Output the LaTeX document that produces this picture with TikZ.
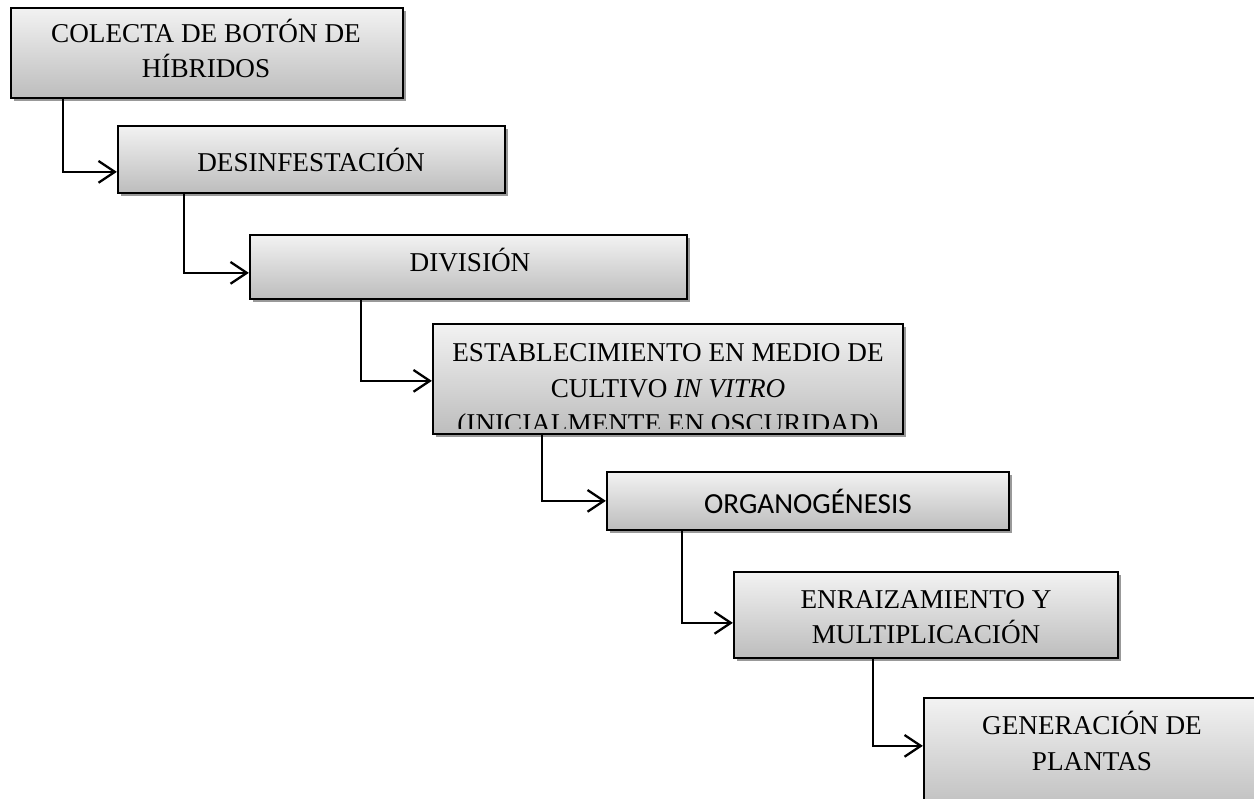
\documentclass[tikz,border=0pt]{standalone}
\usepackage{fontspec}
\setmainfont{Liberation Serif}
\newfontfamily\calibrifont{Carlito}
\usetikzlibrary{positioning, arrows.meta, calc, fit, shadows}

\begin{document}
\begin{tikzpicture}[
    x=0.46pt, y=-0.46pt,
    >={Straight Barb[length=7.5pt, width=10pt]},
    stepbox/.style={draw, line width=1.05pt, rectangle, inner sep=0pt, top color=black!5, bottom color=black!26,
        drop shadow={shadow xshift=1.2pt, shadow yshift=-1.2pt, fill=black!40, opacity=1}},
    txt/.style={align=center, inner sep=0pt, font=\fontsize{12.5}{16.4}\selectfont},
    flow/.style={->, line width=1.05pt, black}
]
\useasboundingbox (0,0) rectangle (1254,799);
\clip (0,0) rectangle (1254,799);

% 1. Etapas (cajas en escalera)
\node[stepbox, fit={(11,8) (403,98)}] (b1) {};
\node[stepbox, fit={(118,126) (505,193)}] (b2) {};
\node[stepbox, fit={(250,235) (687,299)}] (b3) {};
\node[stepbox, fit={(433,324) (903,434)}] (b4) {};
\node[stepbox, fit={(607,472) (1009,530)}] (b5) {};
\node[stepbox, fit={(734,572) (1118,658)}] (b6) {};
\node[stepbox, fit={(924,698) (1270,815)}] (b7) {};

% 2. Textos
\node[txt] (t1) at (206,48.5) {COLECTA DE BOTÓN DE\\HÍBRIDOS};
\node[txt] (t2) at (311,159.5) {DESINFESTACIÓN};
\node[txt] (t3) at (470,260) {DIVISIÓN};
\begin{scope}
    % la tercera línea queda cortada por la caja
    \clip (433,324) rectangle (903,428);
    \node[txt] (t4) at (668,391) {ESTABLECIMIENTO EN MEDIO DE\\CULTIVO \textit{IN VITRO}\\(INICIALMENTE EN OSCURIDAD)};
\end{scope}
\node[txt, font=\calibrifont\fontsize{13.4}{16}\selectfont] (t5) at (808,501) {ORGANOGÉNESIS};
\node[txt] (t6) at (926,617) {ENRAIZAMIENTO Y\\MULTIPLICACIÓN};
\node[txt] (t7) at (1092,741) {GENERACIÓN DE\\PLANTAS};

% 3. Conectores
\draw[flow] ($(b1.south west)+(53,0)$) |- ($(b2.north west)+(0,47)$);
\draw[flow] ($(b2.south west)+(67,0)$) |- ($(b3.north west)+(0,39)$);
\draw[flow] ($(b3.south west)+(112,0)$) |- ($(b4.north west)+(0,58)$);
\draw[flow] ($(b4.south west)+(110,0)$) |- ($(b5.north west)+(0,30)$);
\draw[flow] ($(b5.south west)+(76,0)$) |- ($(b6.north west)+(0,52)$);
\draw[flow] ($(b6.south west)+(140,0)$) |- ($(b7.north west)+(0,49)$);

\end{tikzpicture}
\end{document}
